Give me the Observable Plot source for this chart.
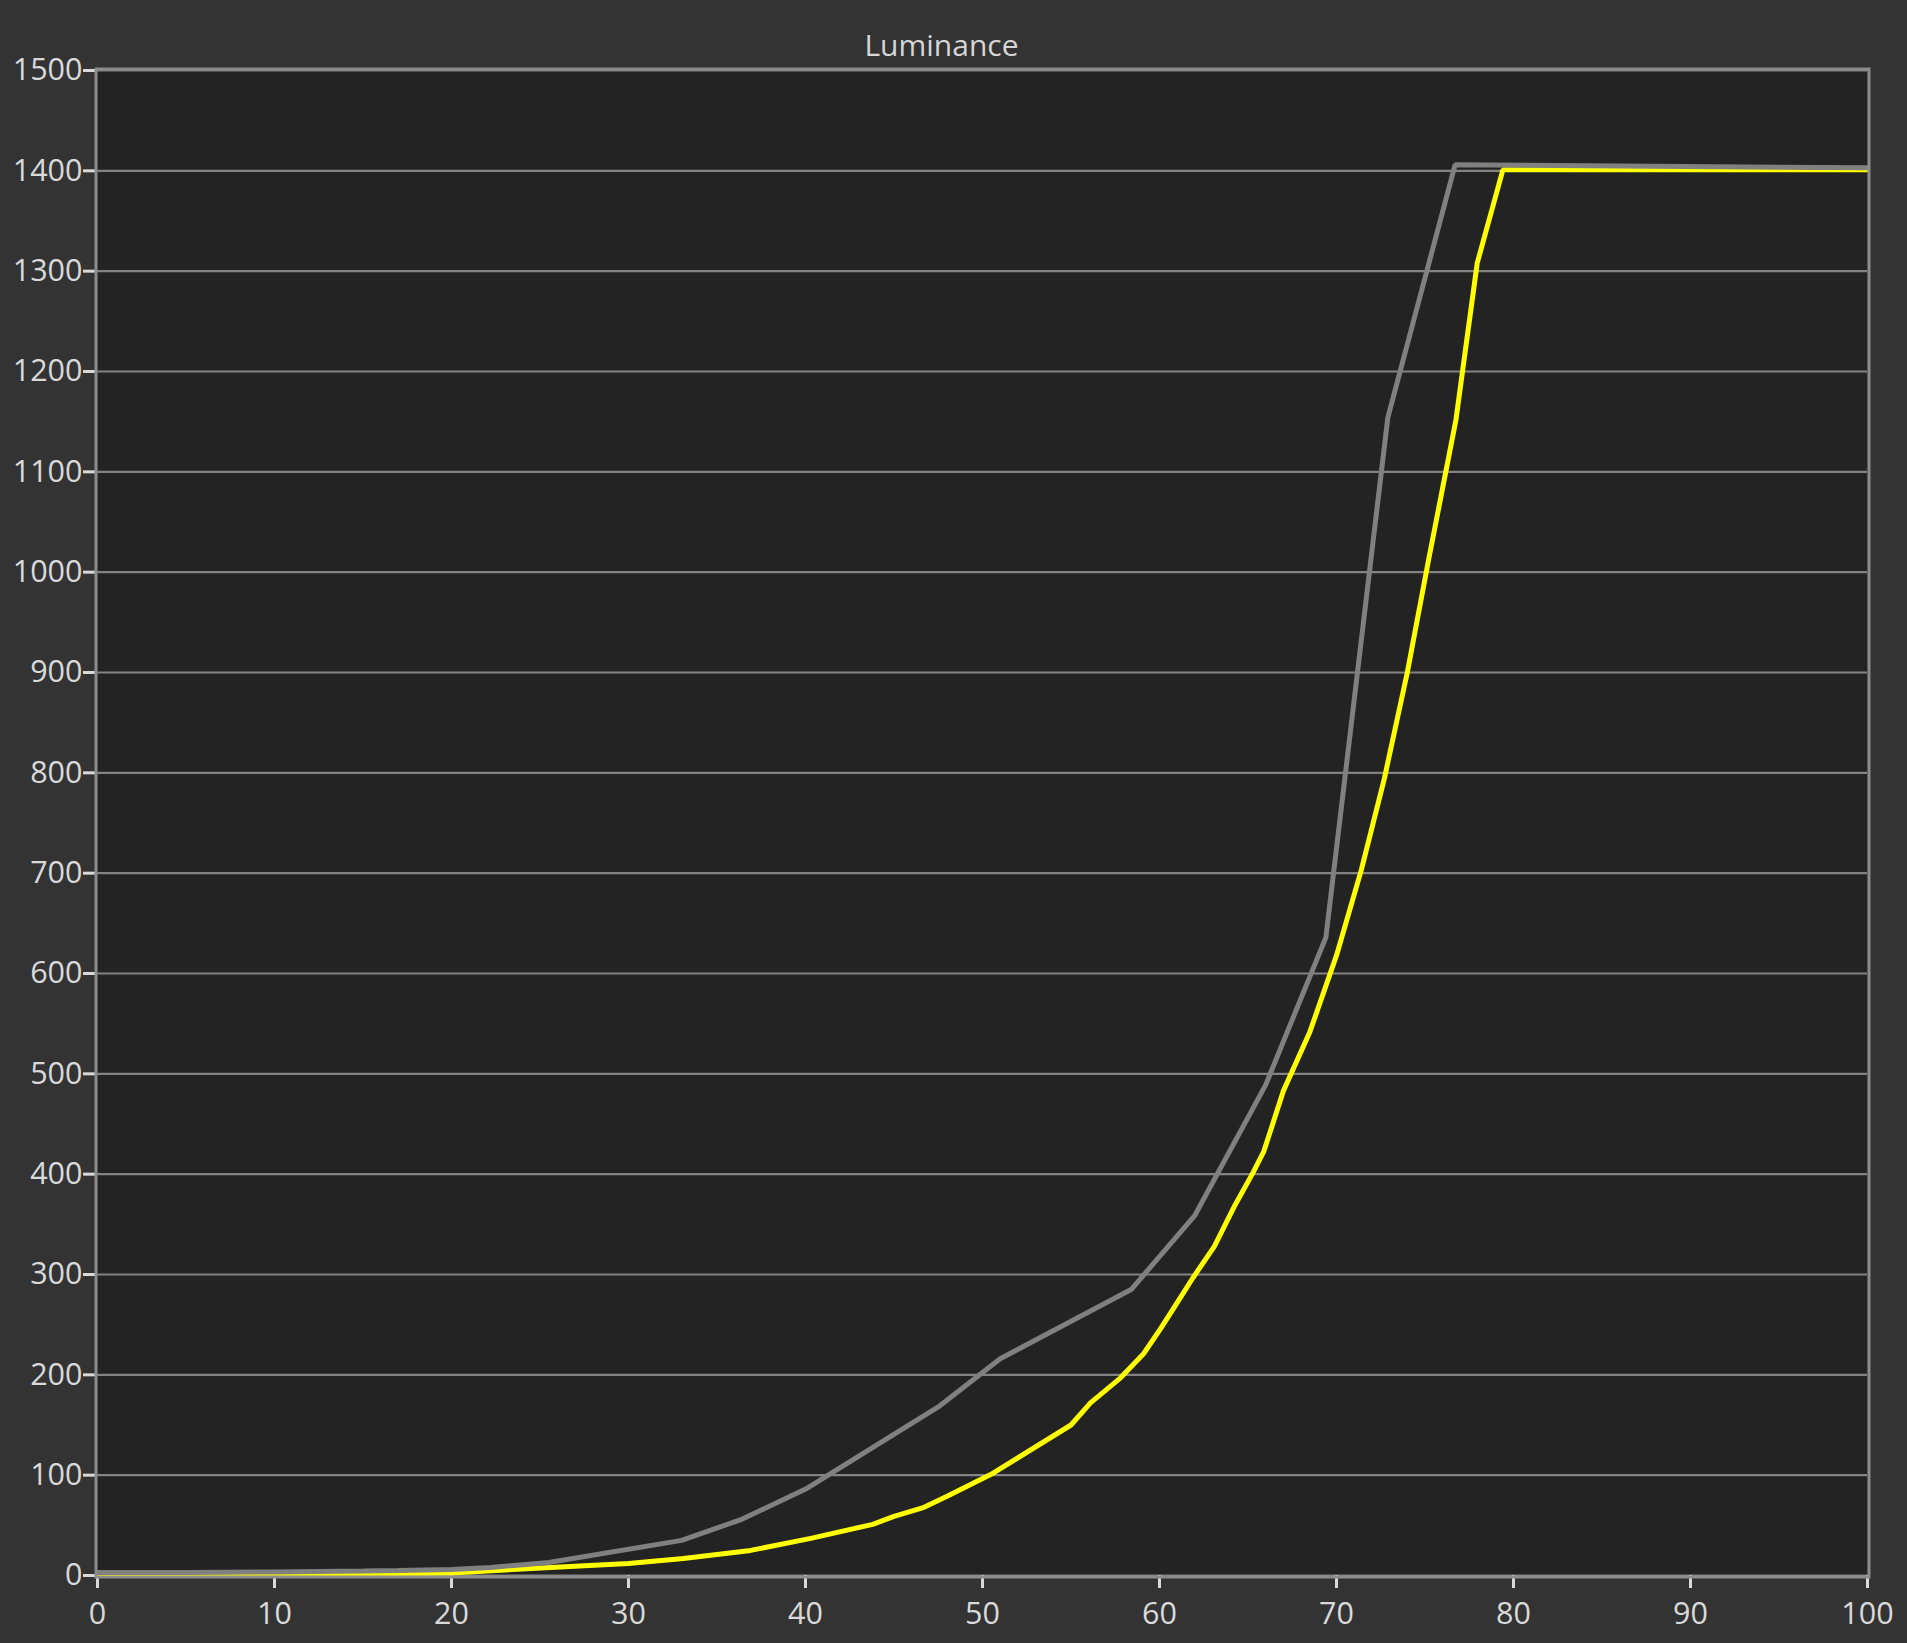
<!DOCTYPE html>
<html>
<head>
<meta charset="utf-8">
<script src="https://cdn.jsdelivr.net/npm/d3@7"></script>
<script src="https://cdn.jsdelivr.net/npm/@observablehq/plot@0.6"></script>
<style>
  html, body { margin: 0; padding: 0; background: #333333; }
  #wrap { position: relative; width: 1907px; height: 1643px; }
  #title {
    position: absolute; left: 0; top: 0;
    width: 1907px; height: 62px; box-sizing: border-box;
    padding-top: 30px; padding-right: 24px;
    font-family: "Open Sans", sans-serif; font-size: 30px; line-height: 30px;
    color: #d6d6d6; text-align: center; z-index: 2;
  }
  #chart svg { display: block; }
  #chart [aria-label="x-axis tick"], #chart [aria-label="y-axis tick"] { stroke-width: 3px; }
</style>
</head>
<body>
<div id="wrap">
<div id="title">Luminance</div>
<div id="chart"></div>
</div>
<script>
// Gray series (reference / target)
const grayX = [0, 5, 10, 15, 17, 20, 22.2, 25.5, 33, 36.4, 40.1, 47.5, 51, 58.4, 62, 66, 69.4, 72.9, 76.7, 100];
const grayY = [3, 3, 3.5, 4.5, 5, 6, 8, 13, 35, 56, 87, 168, 216, 285, 359, 489, 636, 1154, 1406, 1403];

// Yellow series (measured)
const yellowX = [0, 10, 15, 20, 25.6, 30, 33.1, 36.9, 40.3, 43.8, 45, 46.7, 48, 50.6, 55, 56.1, 57.8, 59.1, 60.1, 61, 61.9, 63.1, 64.2, 65.3, 65.9, 67, 68.5, 70, 71.4, 72.7, 74, 75.2, 76.75, 77.95, 79.4, 100];
const yellowY = [0.5, 0.8, 1.2, 2.5, 8, 12, 17, 25, 37, 51, 59, 68, 79, 102, 150, 172, 197, 221, 247, 272, 297, 328, 367, 402, 423, 483, 542, 618, 703, 794, 900, 1012, 1152, 1308, 1401, 1401];

// Tick labels
const xTicks = [0, 10, 20, 30, 40, 50, 60, 70, 80, 90, 100];
const yTicks = [0, 100, 200, 300, 400, 500, 600, 700, 800, 900, 1000, 1100, 1200, 1300, 1400, 1500];

const grayData = grayX.map((x, i) => ({x, y: grayY[i]}));
const yellowData = yellowX.map((x, i) => ({x, y: yellowY[i]}));

const chart = Plot.plot({
  width: 1907,
  height: 1643,
  marginTop: 70,
  marginBottom: 68,
  marginLeft: 97,
  marginRight: 40,
  x: {domain: [0, 100]},
  y: {domain: [0, 1500]},
  style: {
    background: "#333333",
    color: "#d9d9d9",
    fontFamily: "'Open Sans', sans-serif",
    fontSize: "30.5px"
  },
  marks: [
    Plot.frame({fill: "#232323", stroke: "none"}),
    Plot.gridY(yTicks, {stroke: "#838383", strokeOpacity: 1, strokeWidth: 2.2}),
    Plot.axisY(yTicks, {tickSize: 14, tickPadding: 1, strokeWidth: 3, label: null, tickFormat: d => String(d)}),
    Plot.axisX(xTicks, {tickSize: 13, tickPadding: 14, strokeWidth: 3, label: null, tickFormat: d => String(d)}),
    Plot.line(yellowData, {x: "x", y: "y", stroke: "#ffff00", strokeWidth: 5, strokeLinejoin: "miter"}),
    Plot.line(grayData, {x: "x", y: "y", stroke: "#808080", strokeWidth: 5, strokeLinejoin: "miter"}),
    Plot.frame({stroke: "#8c8c8c", strokeWidth: 3, inset: -1.5})
  ]
});
document.getElementById("chart").appendChild(chart);
</script>
</body>
</html>
